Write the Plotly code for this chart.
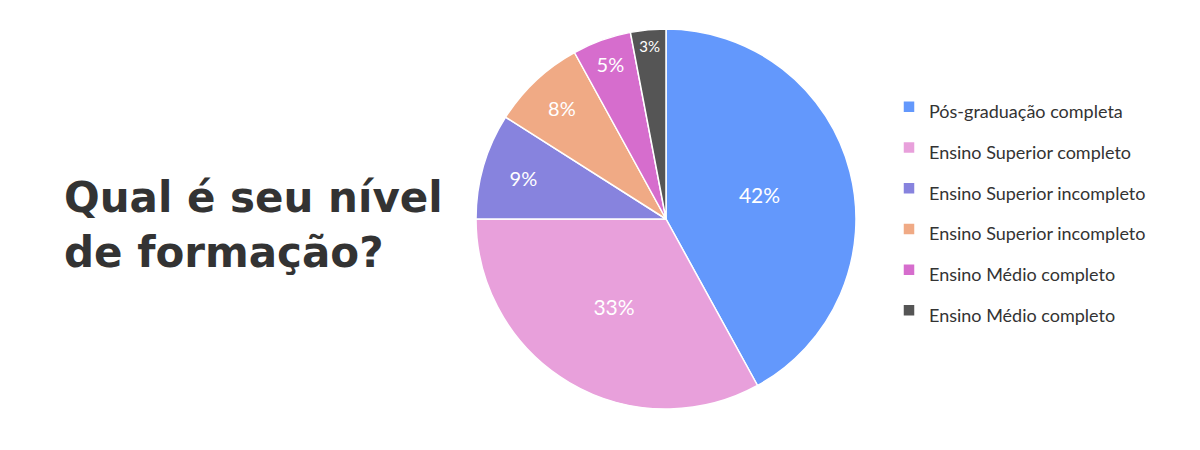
import plotly.graph_objects as go

labels = ["Pós-graduação completa", "Ensino Superior completo", "Ensino Superior incompleto",
          "Ensino Superior incompleto ", "Ensino Médio completo", "Ensino Médio completo "]
values = [42, 33, 9, 8, 5, 3]
colors = ["#6398fc", "#e8a0db", "#8783de", "#f0aa85", "#d66dcd", "#555555"]
text_sizes = [21, 21, 20, 20, 20, 15]
title_lines = ["Qual é seu nível", "de formação?"]

W, H = 1200, 450
OFF = 8  # page body margin
cx, cy, r = 666 - OFF, 219 - OFF, 190

legend_labels = [f"<span style='font-size:18px'>{l}</span>" for l in labels]

fig = go.Figure(go.Pie(
    labels=legend_labels,
    values=values,
    sort=False,
    direction="clockwise",
    rotation=0,
    marker=dict(colors=colors, line=dict(color="white", width=1.5)),
    textinfo="percent",
    texttemplate="%{percent:.0%}",
    textposition="inside",
    insidetextorientation="horizontal",
    textfont=dict(color="white", size=text_sizes, family="Lato"),
    hoverinfo="skip",
    domain=dict(x=[(cx - r) / W, (cx + r) / W], y=[(H - cy - r) / H, (H - cy + r) / H]),
))

fig.add_annotation(
    text="<br>".join(title_lines),
    xref="paper", yref="paper", x=(65 - OFF - 3) / W, y=1 - (225 - OFF) / H,
    xanchor="left", yanchor="middle", align="left", showarrow=False,
    font=dict(family="DejaVu Sans", size=42, color="#333333", weight="bold"),
)

fig.update_layout(
    width=W, height=H,
    margin=dict(l=0, r=0, t=0, b=0),
    paper_bgcolor="white", plot_bgcolor="white",
    showlegend=True,
    legend=dict(x=(930 - OFF - 41) / W, y=1 - (209 - OFF) / H, xanchor="left", yanchor="middle",
                font=dict(family="Lato", size=29, color="#333333"),
                bgcolor="rgba(0,0,0,0)"),
)

fig.write_html("out.html")
